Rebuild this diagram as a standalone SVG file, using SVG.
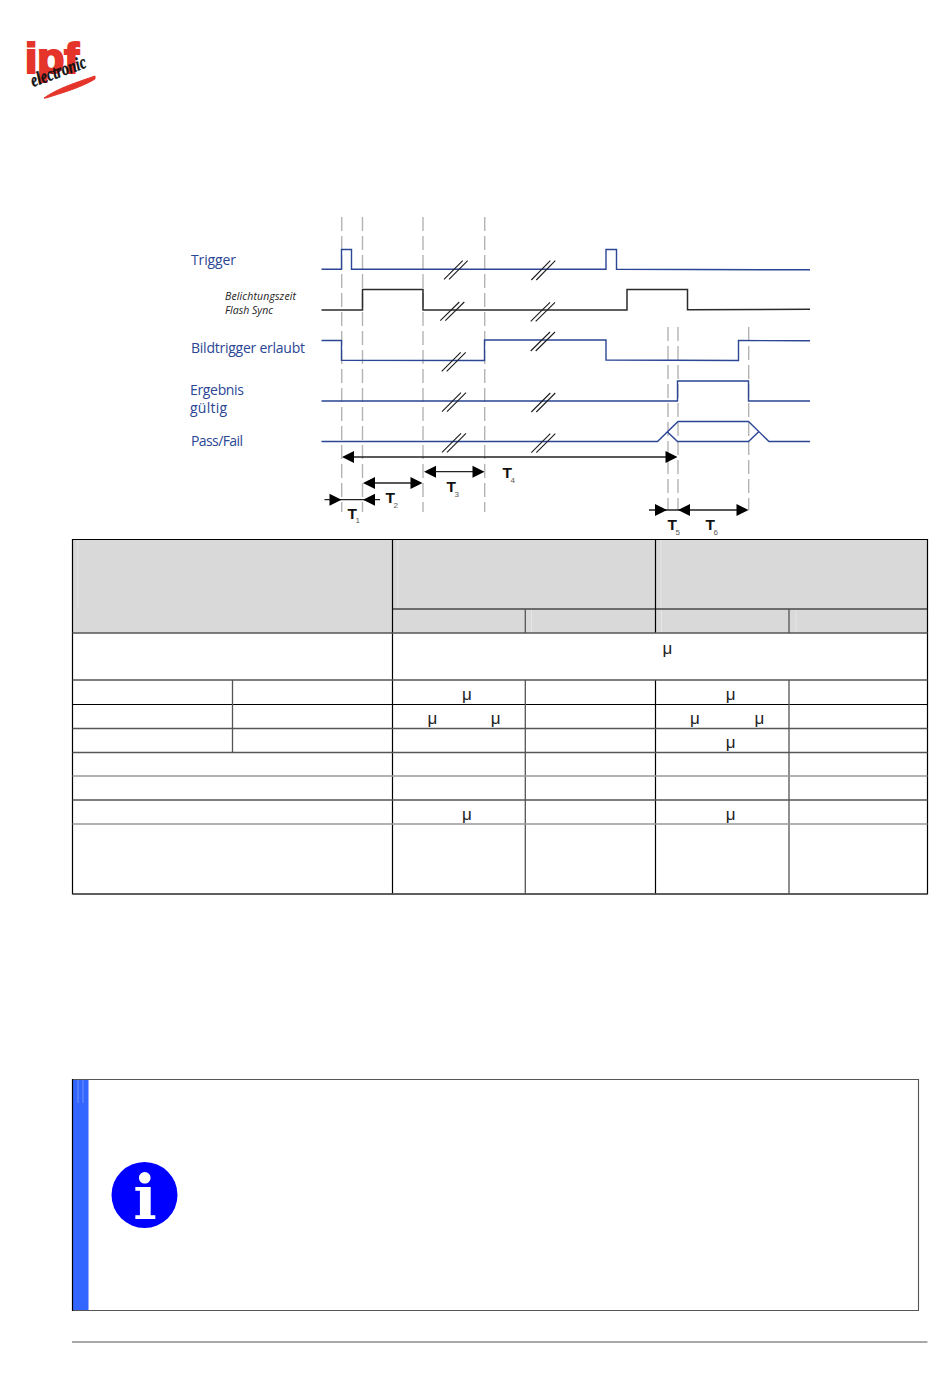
<svg xmlns="http://www.w3.org/2000/svg" width="950" height="1387" viewBox="0 0 950 1387">
<style>
.dash{fill:none;stroke:#b4b4b4;stroke-width:1.4;stroke-dasharray:14 5}
.blue{fill:none;stroke:#2a4694;stroke-width:1.4}
.blk{fill:none;stroke:#2b2b2b;stroke-width:1.5}
.brk{fill:none;stroke:#1c1c1c;stroke-width:1.1}
.arr{fill:none;stroke:#222;stroke-width:1.3}
.head{fill:#000}
.lbl{font-family:"Open Sans","Noto Sans",sans-serif;fill:#2a4694;font-size:14px}
.it{font-family:"Open Sans","Noto Sans",sans-serif;font-style:italic;fill:#222;font-size:10.5px}
.t{font-family:"Liberation Sans",Arial,sans-serif;font-weight:bold;font-size:15.5px;fill:#111}
.s{font-family:"Liberation Sans",Arial,sans-serif;font-size:8px;fill:#555}
.mu{font-family:"Liberation Sans",Arial,sans-serif;font-size:17px;fill:#222;text-anchor:middle}
.hd{fill:#d9d9d9}
.g1{stroke:#000;stroke-width:1.2;fill:none}
.g2{stroke:#555;stroke-width:1.3;fill:none}
.g3{stroke:#999;stroke-width:1.5;fill:none}
</style>
<rect width="950" height="1387" fill="#fff"/>

<g id="logo">
<text x="25" y="73" font-family="Liberation Sans,Arial,sans-serif" font-weight="bold" font-size="42" fill="#e5352b" stroke="#e5352b" stroke-width="2.200" textLength="54" lengthAdjust="spacingAndGlyphs">ipf</text>
<text transform="translate(33,87) rotate(-20)" font-family="Liberation Serif,serif" font-style="italic" font-weight="bold" font-size="19" fill="#111" stroke="#111" stroke-width="0.400" textLength="58" lengthAdjust="spacingAndGlyphs">electronic</text>
<path d="M44 98C58 88 78 82 95 76L95 79C82 87 62 93 46 98Z" fill="#e5352b" stroke="#e5352b" stroke-width="1"/>
</g>

<g id="guides">
<path class="dash" d="M341.7 217V512M362.5 217V512M423 217V512M484.7 217V512M668 327V510M678 327V510M748.7 327V510"/>
</g>

<g id="signal-trigger">
<text class="lbl" x="191" y="265" textLength="45">Trigger</text>
<path class="blue" d="M321.5 269.3H341.5V249.5H351.5V269.3H606V249.5H616.5V269.3L810 269.8"/>
<path class="brk" d="M444 279.3L462.7 260.7M449 279.3L467.7 260.7M531.3 280L550.3 260.7M536.3 280L555.3 260.7"/>
</g>
<g id="signal-flash">
<text class="it" x="225" y="300" textLength="71">Belichtungszeit</text>
<text class="it" x="225" y="314" textLength="48">Flash Sync</text>
<path class="blk" d="M321.5 310H362.5V289.5H423V310H627V289.5H687.5V309.7L810 309.3"/>
<path class="brk" d="M440.3 320.7L459.3 302M445.3 320.7L464.3 302M530.7 321.3L550 302.3M535.7 321.3L555 302.3"/>
</g>
<g id="signal-bildtrigger">
<text class="lbl" x="191" y="353" textLength="114">Bildtrigger erlaubt</text>
<path class="blue" d="M321.5 340.5H341.5V360.2L484.5 360.5V340H606V360L738.5 360.5V340.5L810 340.8"/>
<path class="brk" d="M441.7 371.3L460.7 352.3M446.7 371.3L465.7 352.3M530.7 351L550 332M535.7 351L555 332"/>
</g>
<g id="signal-ergebnis">
<text class="lbl" x="190" y="395" textLength="54">Ergebnis</text>
<text class="lbl" x="190" y="413" textLength="37">gültig</text>
<path class="blue" d="M321.5 401H677.5V381H748.5V401H810"/>
<path class="brk" d="M442 411.7L461 392.7M447 411.7L466 392.7M531.3 412L550.3 393M536.3 412L555.3 393"/>
</g>
<g id="signal-passfail">
<text class="lbl" x="191" y="446" textLength="52">Pass/Fail</text>
<path class="blue" d="M321.5 441.5H657.5L678 421.5H748.5L769 441.5H810M667 431.5L677.5 441.5H748.5L759 431.5"/>
<path class="brk" d="M442 452.3L461 433.3M447 452.3L466 433.3M531.3 452.7L550.3 433.7M536.3 452.7L555.3 433.7"/>
</g>

<g id="connectors">
<path class="arr" d="M345 457H670M366 483H420M427 471.7H481M324.5 499.7H380M649 510H742"/>
<path class="head" d="M342 457l12 -6v12zM677.500 457l-12 -6v12zM363 483l12 -6v12zM422.500 483l-12 -6v12zM424 471.700l12 -6v12zM484.500 471.700l-12 -6v12zM341.500 499.700l-12 -6v12zM363 499.700l12 -6v12zM667 510l-12 -6v12zM678 510l12 -6v12zM748.500 510l-12 -6v12z"/>
<text class="t" x="347.500" y="518.500">T</text><text class="s" x="355.500" y="523">1</text>
<text class="t" x="385.500" y="503">T</text><text class="s" x="393.500" y="508">2</text>
<text class="t" x="446.500" y="492">T</text><text class="s" x="454.500" y="497">3</text>
<text class="t" x="502.500" y="478">T</text><text class="s" x="510.500" y="483">4</text>
<text class="t" x="667.500" y="530">T</text><text class="s" x="675.500" y="535">5</text>
<text class="t" x="705.500" y="530">T</text><text class="s" x="713.500" y="535">6</text>
</g>

<g id="table">
<rect class="hd" x="72.500" y="539.500" width="855" height="93.500"/>
<path d="M78 540V608M398 540V608M661 540V608M531.500 609V633M661.500 609V633M796 609V633" stroke="#e6e6e6" stroke-width="1" fill="none"/>
<path class="g1" d="M72.500 539.500H927.500V894H72.500ZM392.500 539.500V894M655.500 539.500V633M655.500 680V894M392.500 609H927.500M72.500 704.500H927.500"/>
<path class="g2" d="M525.300 609V633M789 609V633M525.300 680V894M789 680V894M232.500 680V752.500M72.500 633H927.500M72.500 680H927.500M72.500 728.500H927.500M72.500 752.500H927.500M72.500 800H927.500M72.500 894H927.500"/>
<path class="g3" d="M72.500 776H927.500M72.500 824H927.500"/>
<g>
<text class="mu" x="667.500" y="654">μ</text>
<text class="mu" x="466.800" y="700">μ</text>
<text class="mu" x="730.600" y="700">μ</text>
<text class="mu" x="432.500" y="724">μ</text>
<text class="mu" x="495.700" y="724">μ</text>
<text class="mu" x="695" y="724">μ</text>
<text class="mu" x="759.500" y="724">μ</text>
<text class="mu" x="730.600" y="748">μ</text>
<text class="mu" x="466.800" y="820">μ</text>
<text class="mu" x="730.600" y="820">μ</text>
</g>
</g>

<g id="info-box">
<rect x="73" y="1079.500" width="15.500" height="231" fill="#3366ff"/>
<path d="M78 1080V1103M83 1080V1103" stroke="#6f93ff" stroke-width="1" fill="none"/>
<path d="M72.500 1079.500H918.500V1310.500H72.500" fill="none" stroke="#555" stroke-width="1.100"/>
<path d="M72.500 1079V1311" fill="none" stroke="#000" stroke-width="1.200"/>
<circle cx="144.500" cy="1195" r="33" fill="#0000ff"/>
<text x="145" y="1219" text-anchor="middle" font-family="DejaVu Serif,serif" font-weight="bold" font-size="62" fill="#fff">i</text>
</g>

<g id="footer-rule">
<path d="M72 1342H927.500" stroke="#555" stroke-width="1.200" fill="none"/>
</g>
</svg>
